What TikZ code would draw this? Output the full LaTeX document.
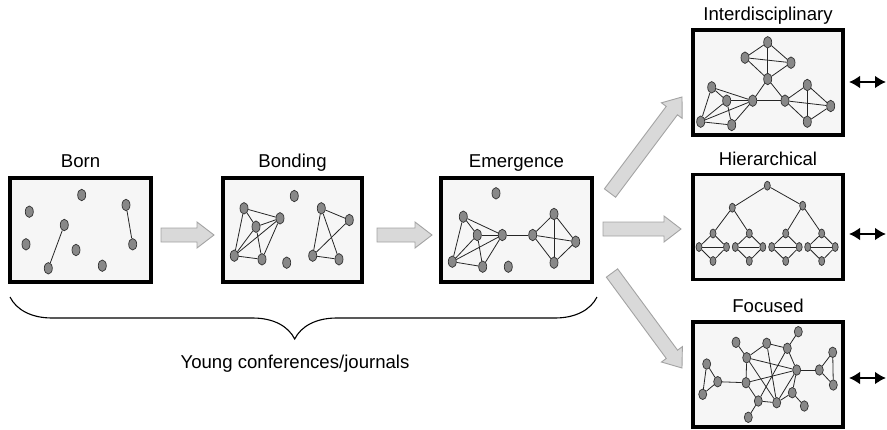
\documentclass[tikz,border=0pt]{standalone}
\usepackage{fontspec}
\setmainfont{Liberation Sans}
\usetikzlibrary{shapes.geometric,arrows.meta,calc,decorations.pathreplacing}

\definecolor{panelfill}{HTML}{F6F6F6}
\definecolor{dotfill}{HTML}{888888}
\definecolor{dotline}{HTML}{333333}
\definecolor{arrowfill}{HTML}{D9D9D9}
\definecolor{arrowline}{HTML}{A3A3A3}

\tikzset{
  panel/.style={draw=black, line width=3.5pt, fill=panelfill, minimum height=105pt, inner sep=0pt},
  paneltitle/.style={anchor=base, font=\fontsize{18.6}{22}\selectfont},
  vertex/.style={ellipse, draw=dotline, fill=dotfill, line width=0.7pt, minimum width=8pt, minimum height=11.5pt, inner sep=0pt},
  smallvertex/.style={vertex, minimum width=6pt, minimum height=9pt},
  link/.style={draw=black!85, line width=0.8pt},
  fatarrow/.style={draw=arrowline, fill=arrowfill, line width=0.9pt},
  twoway/.style={line width=2.6pt, arrows={Latex[length=11pt,width=13pt]-Latex[length=11pt,width=13pt]}}
}

% grey block arrow from #1 to #2
\newcommand{\fatarrow}[2]{%
  \coordinate (#1#2) at ($(#2)!17pt!(#1)$);
  \draw[fatarrow] ($(#1)!7pt!90:(#2)$) -- ($(#1#2)!7pt!-90:(#1)$)
    -- ($(#1#2)!13pt!-90:(#1)$) -- (#2)
    -- ($(#1#2)!13pt!90:(#1)$) -- ($(#1#2)!7pt!90:(#1)$)
    -- ($(#1)!7pt!-90:(#2)$) -- cycle;}

\begin{document}
\begin{tikzpicture}[x=1pt,y=-1pt]
  \useasboundingbox (0,0) rectangle (887,429);

  \node[panel, minimum width=141pt, minimum height=104pt] (born) at (80.5,230) {};
  \node[panel, minimum width=139pt, minimum height=104pt] (bond) at (292.5,230) {};
  \node[panel, minimum width=151pt, minimum height=104pt] (emer) at (516.5,230) {};
  \node[panel, minimum width=150pt] (inter) at (768,82.5) {};
  \node[panel, minimum width=150pt] (hier) at (768,227) {};
  \node[panel, minimum width=150pt] (focus) at (768,374.5) {};

  \node[paneltitle] (borntitle) at ([yshift=9pt]born.north) {Born};
  \node[paneltitle] (bondtitle) at ([yshift=9pt]bond.north) {Bonding};
  \node[paneltitle] (emertitle) at ([yshift=9pt]emer.north) {Emergence};
  \node[paneltitle] (intertitle) at ([yshift=7.5pt]inter.north) {Interdisciplinary};
  \node[paneltitle] (hiertitle) at ([yshift=7pt]hier.north) {Hierarchical};
  \node[paneltitle] (focustitle) at ([yshift=8pt]focus.north) {Focused};

  % born
  \foreach \n/\x/\y in {1/81.7/195, 2/29.3/211.7, 3/126/205, 4/64.3/225, 5/26/244.3,
                        6/132.7/244.3, 7/76/250, 8/48.3/268.3, 9/102.3/265.7}
    \node[vertex] (b\n) at (\x,\y) {};
  \draw[link] (b4) -- (b8);
  \draw[link] (b3) -- (b6);

  % bonding
  \foreach \n/\x/\y in {1/244/208.3, 2/280/218.3, 3/256/226.7, 4/234.3/255.7, 5/262/259.3,
                        6/321.3/208.3, 7/349.3/220, 8/312.7/255.7, 9/339/259.3,
                        10/294.3/196, 11/286.7/262.7}
    \node[vertex] (g\n) at (\x,\y) {};
  \foreach \a/\b in {1/2, 1/3, 1/4, 2/3, 2/4, 2/5, 3/4, 3/5, 4/5, 6/7, 6/8, 6/9, 7/8, 8/9}
    \draw[link] (g\a) -- (g\b);

  % emergence
  \foreach \n/\x/\y in {1/463.3/216.7, 2/502.3/235, 3/477.3/235, 4/452.3/261.7, 5/482.7/266.7,
                        6/532.7/235, 7/554/214, 8/575.7/241.7, 9/554/262.7,
                        10/496/193.3, 11/508.3/266.7}
    \node[vertex] (e\n) at (\x,\y) {};
  \foreach \a/\b in {1/2, 1/3, 1/4, 2/3, 2/4, 2/5, 3/4, 3/5, 4/5, 2/6,
                     6/7, 6/8, 6/9, 7/8, 7/9, 8/9}
    \draw[link] (e\a) -- (e\b);

  % interdisciplinary
  \foreach \n/\x/\y in {1/711.7/87.3, 2/752.7/100.7, 3/726.7/100.7, 4/700.7/121.7, 5/731.7/125,
                        6/785/100.7, 7/807.3/85, 8/830.7/106, 9/807.3/121.7,
                        10/767.7/42.3, 11/745/57.7, 12/791/62.7, 13/767.7/79}
    \node[vertex] (i\n) at (\x,\y) {};
  \foreach \a/\b in {1/2, 1/3, 1/4, 2/3, 2/4, 2/5, 3/4, 3/5, 4/5, 2/6,
                     6/7, 6/8, 6/9, 7/8, 7/9, 8/9,
                     10/11, 10/12, 10/13, 11/12, 11/13, 12/13, 2/13, 6/13}
    \draw[link] (i\a) -- (i\b);

  % hierarchical
  \node[smallvertex] (hroot) at (767.3,185.7) {};
  \node[smallvertex] (hleft) at (732.3,207.7) {};
  \node[smallvertex] (hright) at (802.7,205.7) {};
  \draw[link] (hroot) -- (hleft);
  \draw[link] (hroot) -- (hright);
  \foreach \k/\x in {1/713, 2/749.3, 3/785.7, 4/821.7} {
    \node[smallvertex] (ht\k) at (\x,233.5) {};
    \node[smallvertex] (hl\k) at (\x-14,247) {};
    \node[smallvertex] (hr\k) at (\x+13.5,247) {};
    \node[smallvertex] (hb\k) at (\x,261) {};
    \draw[link] (ht\k) -- (hl\k) -- (hb\k) -- (hr\k) -- (ht\k);
    \draw[link] (hl\k) -- (hr\k);
  }
  \draw[link] (hleft) -- (ht1);
  \draw[link] (hleft) -- (ht2);
  \draw[link] (hright) -- (ht3);
  \draw[link] (hright) -- (ht4);

  % focused
  \foreach \n/\x/\y in {1/798.3/331.7, 2/736/342.3, 3/766.7/343.3, 4/787.3/348.3, 5/746.7/357.7,
                        6/832.7/352.3, 7/706.7/364, 8/796.7/370, 9/819.3/370, 10/717.7/381.7,
                        11/746/382.7, 12/833.3/385, 13/702.7/394.3, 14/792.3/392.7, 15/758.3/401,
                        16/776.7/402.7, 17/804.3/406, 18/748.3/417.3}
    \node[vertex, minimum height=10.5pt] (f\n) at (\x,\y) {};
  \foreach \a/\b in {1/4, 2/5, 5/3, 3/4, 5/8, 4/8, 5/11, 5/16, 3/16, 4/15, 11/8, 11/15,
                     11/10, 15/16, 16/8, 16/14, 8/14, 14/17, 15/18, 8/9, 9/6, 9/12, 6/12,
                     7/10, 10/13, 7/13}
    \draw[link] (f\a) -- (f\b);

  % grey arrows
  \coordinate (s1) at (161,235);  \coordinate (t1) at (214,235);
  \coordinate (s2) at (377,235);  \coordinate (t2) at (432,235);
  \coordinate (s3) at (603,229);  \coordinate (t3) at (681,229);
  \coordinate (s4) at (610,193);  \coordinate (t4) at (682,97);
  \coordinate (s5) at (612,273);  \coordinate (t5) at (682,368);
  \fatarrow{s1}{t1}
  \fatarrow{s2}{t2}
  \fatarrow{s3}{t3}
  \fatarrow{s4}{t4}
  \fatarrow{s5}{t5}

  % two-way arrows
  \coordinate (ia) at (849,82);   \coordinate (ib) at (886,82);
  \coordinate (ha) at (849,234);  \coordinate (hb) at (886,234);
  \coordinate (fa) at (849,378);  \coordinate (fb) at (886,378);
  \draw[twoway] (ia) -- (ib);
  \draw[twoway] (ha) -- (hb);
  \draw[twoway] (fa) -- (fb);

  % brace
  \coordinate (bl) at (10,297);
  \coordinate (br) at (597,297);
  \draw[line width=1.1pt, decorate, decoration={brace, mirror, amplitude=42pt, aspect=0.485}] (bl) -- (br);
  \node[paneltitle] (young) at (295,368) {Young conferences/journals};
\end{tikzpicture}
\end{document}
